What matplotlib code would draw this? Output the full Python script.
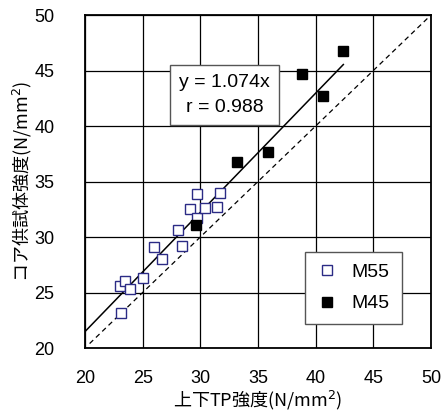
import matplotlib
matplotlib.use('Agg')
import matplotlib.pyplot as plt
import numpy as np

plt.rcParams['font.family'] = ['Liberation Sans', 'Noto Sans CJK JP', 'DejaVu Sans']
JP = ['Noto Sans CJK JP', 'DejaVu Sans']

# M55 (open squares)
m55_x = [23.03, 23.44, 23.90, 23.12, 25.06, 25.95, 26.71, 28.09, 28.38,
         29.13, 29.74, 29.74, 30.40, 31.42, 31.68]
m55_y = [25.62, 26.04, 25.29, 23.18, 26.34, 29.07, 28.05, 30.66, 29.19,
         32.52, 33.84, 31.68, 32.64, 32.67, 33.99]
# M45 (filled squares)
m45_x = [29.62, 33.21, 35.84, 38.79, 40.66, 42.34]
m45_y = [31.05, 36.73, 37.66, 44.68, 42.67, 46.79]

slope = 1.074
r_val = 0.988
ticks = [20, 25, 30, 35, 40, 45, 50]

fig = plt.figure(figsize=(4.45, 4.19), dpi=100)
ax = fig.add_axes([85/445, 1 - 348/419, 346/445, 333/419])

ax.set_xlim(20, 50)
ax.set_ylim(20, 50)
ax.set_xticks(ticks)
ax.set_yticks(ticks)
ax.grid(True, color='black', linewidth=0.9)
ax.set_axisbelow(True)
ax.tick_params(axis='x', length=0, labelsize=13, pad=16)
ax.tick_params(axis='y', length=0, labelsize=13, pad=22)
for s in ax.spines.values():
    s.set_linewidth(1.3)

# 1:1 line
xl = np.array([20.4, 50])
ax.plot(xl, xl, color='black', linestyle=(0, (4, 3)), linewidth=0.9)
# regression line
xr = np.array([20, 42.4])
ax.plot(xr, slope * xr, color='black', linewidth=1.1)

ax.plot(m55_x, m55_y, linestyle='none', marker='s', markersize=6.5,
        markerfacecolor='white', markeredgecolor='#2b2b85', markeredgewidth=1.0,
        label='M55')
ax.plot(m45_x, m45_y, linestyle='none', marker='s', markersize=7,
        color='black', label='M45')

ax.text(32.1, 42.8, 'y = %.3fx\nr = %.3f' % (slope, r_val), fontsize=14,
        ha='center', va='center', linespacing=1.6,
        bbox=dict(boxstyle='square,pad=0.45', facecolor='white',
                  edgecolor='#555555', linewidth=1))

leg = ax.legend(loc='lower right', bbox_to_anchor=(0.915, 0.072), fontsize=14,
                fancybox=False, framealpha=1, edgecolor='#555555',
                handlelength=1.0, borderpad=0.6, labelspacing=0.7,
                handletextpad=0.8, borderaxespad=0)
leg.get_frame().set_linewidth(1)

ax.set_xlabel('上下TP強度(N/mm$^2$)', fontsize=13, labelpad=1, family=JP)
ax.set_ylabel('コア供試体強度(N/mm$^2$)', fontsize=13, labelpad=0, family=JP)

fig.savefig('out.png', dpi=100)
